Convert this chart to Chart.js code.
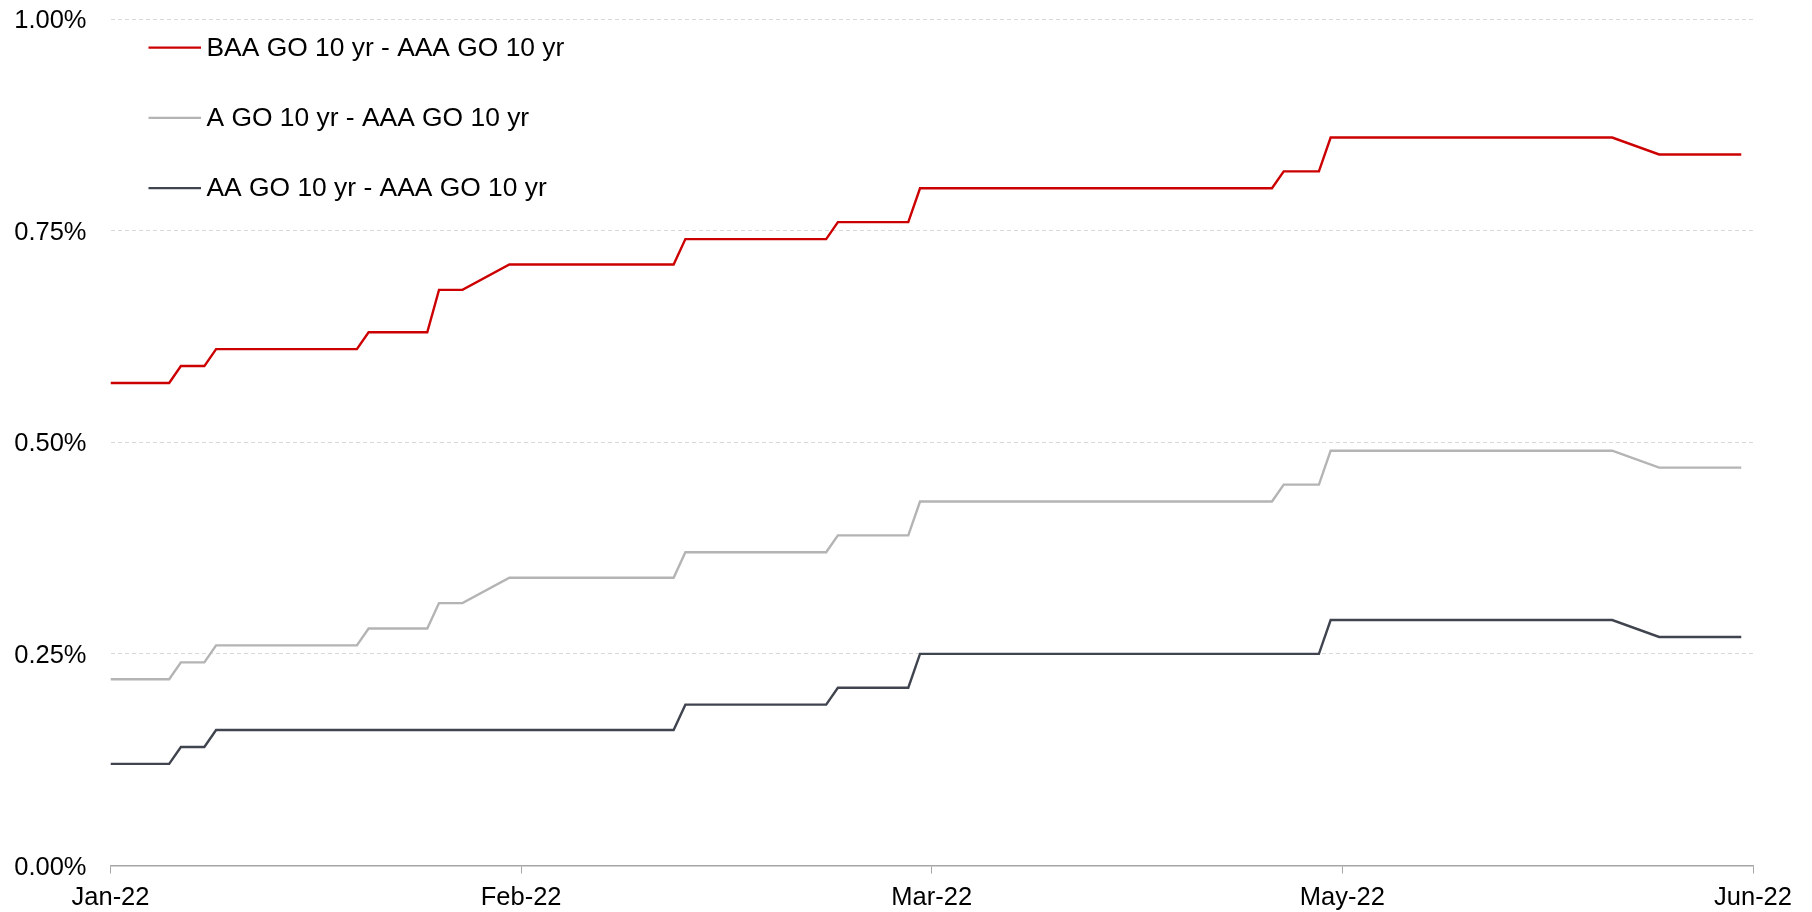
<!DOCTYPE html>
<html>
<head>
<meta charset="utf-8">
<title>GO 10 yr spreads over AAA</title>
<script src="https://cdn.jsdelivr.net/npm/chart.js@4/dist/chart.umd.min.js"></script>
<style>
  html, body { margin: 0; padding: 0; background: #ffffff; }
  #wrap { width: 1812px; height: 912px; }
</style>
</head>
<body>
<div id="wrap"><canvas id="spreads" width="1812" height="912"></canvas></div>
<script>
// Observation positions (trading-day index along the axis) where the series change level
const dayIndex = [0, 5, 6, 8, 9, 21, 22, 27, 28, 30, 34, 48, 49, 61, 62, 68, 69, 99, 100, 103, 104, 128, 132, 139];

// Spread values in percent at each observation above
const baaSpread = [0.57, 0.57, 0.59, 0.59, 0.61, 0.61, 0.63, 0.63, 0.68, 0.68, 0.71, 0.71, 0.74, 0.74, 0.76, 0.76, 0.80, 0.80, 0.82, 0.82, 0.86, 0.86, 0.84, 0.84];
const aSpread   = [0.22, 0.22, 0.24, 0.24, 0.26, 0.26, 0.28, 0.28, 0.31, 0.31, 0.34, 0.34, 0.37, 0.37, 0.39, 0.39, 0.43, 0.43, 0.45, 0.45, 0.49, 0.49, 0.47, 0.47];
const aaSpread  = [0.12, 0.12, 0.14, 0.14, 0.16, 0.16, 0.16, 0.16, 0.16, 0.16, 0.16, 0.16, 0.19, 0.19, 0.21, 0.21, 0.25, 0.25, 0.25, 0.25, 0.29, 0.29, 0.27, 0.27];

const seriesNames = ['BAA GO 10 yr - AAA GO 10 yr', 'A GO 10 yr - AAA GO 10 yr', 'AA GO 10 yr - AAA GO 10 yr'];

// Axis ticks
const xTickPositions = [0, 35, 70, 105, 140];
const xTickLabels = ['Jan-22', 'Feb-22', 'Mar-22', 'May-22', 'Jun-22'];
const yTickValues = [0, 0.25, 0.5, 0.75, 1.0];

const FONT_FAMILY = '"Liberation Sans", Arial, Helvetica, sans-serif';
const COLORS = ['#CC0000', '#B4B4B4', '#40444F'];

const toPoints = (vals) => dayIndex.map((d, i) => ({ x: d, y: vals[i] }));

// Vertical legend drawn inside the plot, top-left
const insideLegend = {
  id: 'insideLegend',
  afterDatasetsDraw(chart) {
    const { ctx, chartArea } = chart;
    const x0 = chartArea.left + 38;
    const lineLen = 52.5;
    const textGap = 5.5;
    const firstRow = chartArea.top + 28.7;
    const rowStep = 70.2;
    ctx.save();
    ctx.font = '26.4px ' + FONT_FAMILY;
    ctx.textBaseline = 'middle';
    ctx.textAlign = 'left';
    chart.data.datasets.forEach((ds, i) => {
      const y = firstRow + i * rowStep;
      ctx.strokeStyle = ds.borderColor;
      ctx.lineWidth = 2.2;
      ctx.beginPath();
      ctx.moveTo(x0, y);
      ctx.lineTo(x0 + lineLen, y);
      ctx.stroke();
      ctx.fillStyle = '#000000';
      ctx.fillText(ds.label, x0 + lineLen + textGap, y + 1);
    });
    ctx.restore();
  }
};

new Chart(document.getElementById('spreads'), {
  type: 'line',
  data: {
    datasets: [
      { label: seriesNames[0], data: toPoints(baaSpread), borderColor: COLORS[0] },
      { label: seriesNames[1], data: toPoints(aSpread),   borderColor: COLORS[1] },
      { label: seriesNames[2], data: toPoints(aaSpread),  borderColor: COLORS[2] }
    ]
  },
  options: {
    responsive: false,
    animation: false,
    devicePixelRatio: 1,
    layout: { padding: { top: 19, right: 59, bottom: 0, left: 0 } },
    elements: {
      line: { borderWidth: 2.4, tension: 0, fill: false },
      point: { radius: 0, hoverRadius: 0 }
    },
    plugins: {
      legend: { display: false },
      tooltip: { enabled: false }
    },
    scales: {
      x: {
        type: 'linear',
        min: 0,
        max: 140,
        afterBuildTicks: (scale) => { scale.ticks = xTickPositions.map(v => ({ value: v })); },
        afterFit: (scale) => { scale.height = 46.5; },
        ticks: {
          autoSkip: false,
          maxRotation: 0,
          padding: 9,
          color: '#000000',
          font: { family: FONT_FAMILY, size: 25.5 },
          callback: (value, index) => xTickLabels[index]
        },
        grid: {
          drawOnChartArea: false,
          drawTicks: true,
          tickLength: 8,
          color: '#A6A6A6',
          lineWidth: 1
        },
        border: { display: true, color: '#A6A6A6', width: 1.5 }
      },
      y: {
        min: 0,
        max: 1,
        afterBuildTicks: (scale) => { scale.ticks = yTickValues.map(v => ({ value: v })); },
        afterFit: (scale) => {
          scale.width = 110.5;
          scale.paddingTop = 0;
          scale.paddingBottom = 0;
        },
        ticks: {
          padding: 24,
          labelOffset: 2,
          color: '#000000',
          font: { family: FONT_FAMILY, size: 25.5 },
          callback: (value) => value.toFixed(2) + '%'
        },
        grid: {
          drawTicks: false,
          lineWidth: 1,
          color: (ctx) => (ctx.tick && ctx.tick.value === 0) ? 'rgba(0,0,0,0)' : '#D9D9D9'
        },
        border: { display: false, dash: [4, 3] }
      }
    }
  },
  plugins: [insideLegend]
});
</script>
</body>
</html>
